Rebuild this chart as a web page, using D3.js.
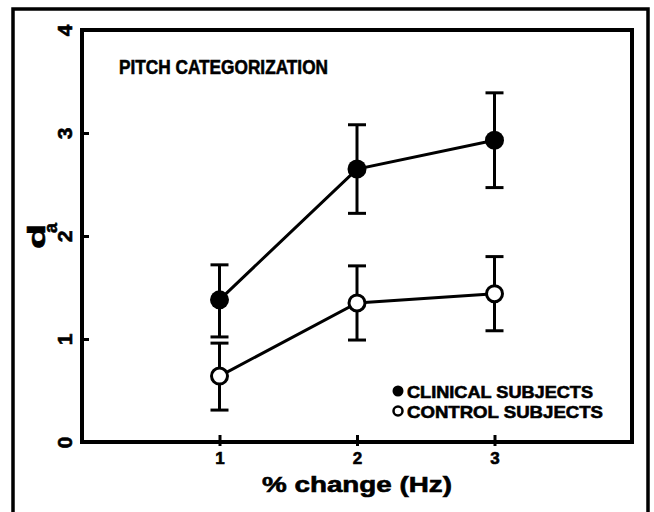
<!DOCTYPE html>
<html>
<head>
<meta charset="utf-8">
<script src="https://cdn.jsdelivr.net/npm/d3@7"></script>
<style>
  html, body { margin: 0; padding: 0; background: #fff; }
  svg text { font-family: "Liberation Sans", Arial, sans-serif; font-weight: bold; fill: #000; stroke: #000; stroke-width: 0.6px; }
</style>
</head>
<body>
<div id="chart"></div>
<script>
// data
var pctChange = [1, 2, 3];
var clinicalMean = [1.38, 2.65, 2.93];
var clinicalLow = [1.02, 2.22, 2.47];
var clinicalHigh = [1.72, 3.08, 3.39];
var controlMean = [0.64, 1.35, 1.44];
var controlLow = [0.31, 0.99, 1.08];
var controlHigh = [0.96, 1.71, 1.80];
var yTicks = [0, 1, 2, 3, 4];
var legendLabels = ["CLINICAL SUBJECTS", "CONTROL SUBJECTS"];

var svgWidth = 654;
var svgHeight = 512;

var margin = { top: 30, right: 22, bottom: 70, left: 82 };
var width = 632 - margin.left;
var height = 442 - margin.top;

var svg = d3.select("#chart")
  .append("svg")
  .attr("width", svgWidth)
  .attr("height", svgHeight);

// outer frame (runs off the bottom of the picture)
svg.append("rect")
  .attr("x", 13)
  .attr("y", 9)
  .attr("width", 635)
  .attr("height", 530)
  .attr("fill", "none")
  .attr("stroke", "#000")
  .attr("stroke-width", 3.5);

var chartGroup = svg.append("g")
  .attr("transform", `translate(${margin.left}, ${margin.top})`);

var xScale = d3.scaleLinear().domain([0, 4]).range([0, width]);
var yScale = d3.scaleLinear().domain([0, 4]).range([height, 0]);

// plot box
chartGroup.append("rect")
  .attr("width", width)
  .attr("height", height)
  .attr("fill", "none")
  .attr("stroke", "#000")
  .attr("stroke-width", 4);

// x axis
var xAxis = chartGroup.append("g")
  .attr("transform", `translate(0, ${height})`)
  .call(d3.axisBottom(xScale).tickValues(pctChange).tickFormat(d3.format("d")));
xAxis.select(".domain").remove();
xAxis.attr("font-family", null).attr("font-size", null);
xAxis.selectAll(".tick line")
  .attr("y1", -7)
  .attr("y2", 4)
  .attr("stroke-width", 3);
xAxis.selectAll(".tick text")
  .attr("y", 22)
  .attr("dy", null)
  .style("font-size", "17px");

// y axis
var yAxis = chartGroup.append("g")
  .call(d3.axisLeft(yScale).tickValues(yTicks).tickFormat(d3.format("d")));
yAxis.select(".domain").remove();
yAxis.attr("font-family", null).attr("font-size", null);
yAxis.selectAll(".tick line")
  .attr("x2", 7)
  .attr("stroke-width", 3)
  .attr("display", d => (d === 0 || d === 4) ? "none" : null);
yAxis.selectAll(".tick text")
  .attr("x", null)
  .attr("dy", null)
  .attr("text-anchor", "middle")
  .attr("transform", "translate(-10,0) rotate(-90)")
  .style("font-size", "21px");

// axis titles
chartGroup.append("text")
  .attr("x", xScale(2))
  .attr("y", height + 50)
  .attr("text-anchor", "middle")
  .attr("textLength", 190)
  .attr("lengthAdjust", "spacingAndGlyphs")
  .style("font-size", "22px")
  .text("% change (Hz)");

svg.append("text")
  .attr("transform", "translate(45, 249) rotate(-90)")
  .attr("textLength", 25)
  .attr("lengthAdjust", "spacingAndGlyphs")
  .style("font-size", "23px")
  .text("d");
svg.append("text")
  .attr("transform", "translate(57, 233) rotate(-90)")
  .style("font-size", "18px")
  .text("a");

// panel title
chartGroup.append("text")
  .attr("x", 119 - margin.left)
  .attr("y", 74 - margin.top)
  .attr("textLength", 209)
  .attr("lengthAdjust", "spacingAndGlyphs")
  .style("font-size", "20px")
  .text("PITCH CATEGORIZATION");

// series
var series = [
  { mean: clinicalMean, low: clinicalLow, high: clinicalHigh, filled: true },
  { mean: controlMean, low: controlLow, high: controlHigh, filled: false }
];

var line = d3.line()
  .x(d => xScale(d.x))
  .y(d => yScale(d.y));

series.forEach(function (s) {
  var pts = pctChange.map((x, i) => ({ x: x, y: s.mean[i], lo: s.low[i], hi: s.high[i] }));

  var bars = chartGroup.append("g")
    .attr("stroke", "#000")
    .attr("stroke-width", 3);
  bars.selectAll(".stem")
    .data(pts)
    .enter()
    .append("line")
    .attr("x1", d => xScale(d.x))
    .attr("x2", d => xScale(d.x))
    .attr("y1", d => yScale(d.lo))
    .attr("y2", d => yScale(d.hi));
  bars.selectAll(".capHi")
    .data(pts)
    .enter()
    .append("line")
    .attr("x1", d => xScale(d.x) - 9)
    .attr("x2", d => xScale(d.x) + 9)
    .attr("y1", d => yScale(d.hi))
    .attr("y2", d => yScale(d.hi));
  bars.selectAll(".capLo")
    .data(pts)
    .enter()
    .append("line")
    .attr("x1", d => xScale(d.x) - 9)
    .attr("x2", d => xScale(d.x) + 9)
    .attr("y1", d => yScale(d.lo))
    .attr("y2", d => yScale(d.lo));

  chartGroup.append("path")
    .datum(pts)
    .attr("d", line)
    .attr("fill", "none")
    .attr("stroke", "#000")
    .attr("stroke-width", 3);

  chartGroup.selectAll(null)
    .data(pts)
    .enter()
    .append("circle")
    .attr("cx", d => xScale(d.x))
    .attr("cy", d => yScale(d.y))
    .attr("r", s.filled ? 9.5 : 8)
    .attr("fill", s.filled ? "#000" : "#fff")
    .attr("stroke", "#000")
    .attr("stroke-width", s.filled ? 0 : 3);
});

// legend
var legend = svg.append("g");
legendLabels.forEach(function (label, i) {
  var ly = 391 + i * 20;
  legend.append("circle")
    .attr("cx", 398)
    .attr("cy", ly)
    .attr("r", i === 0 ? 5.5 : 4.5)
    .attr("fill", i === 0 ? "#000" : "#fff")
    .attr("stroke", "#000")
    .attr("stroke-width", i === 0 ? 0 : 2.5);
  legend.append("text")
    .attr("x", 407)
    .attr("y", ly + 6.5)
    .attr("textLength", i === 0 ? 186 : 196)
    .attr("lengthAdjust", "spacingAndGlyphs")
    .style("font-size", "17px")
    .text(label);
});
</script>
</body>
</html>
